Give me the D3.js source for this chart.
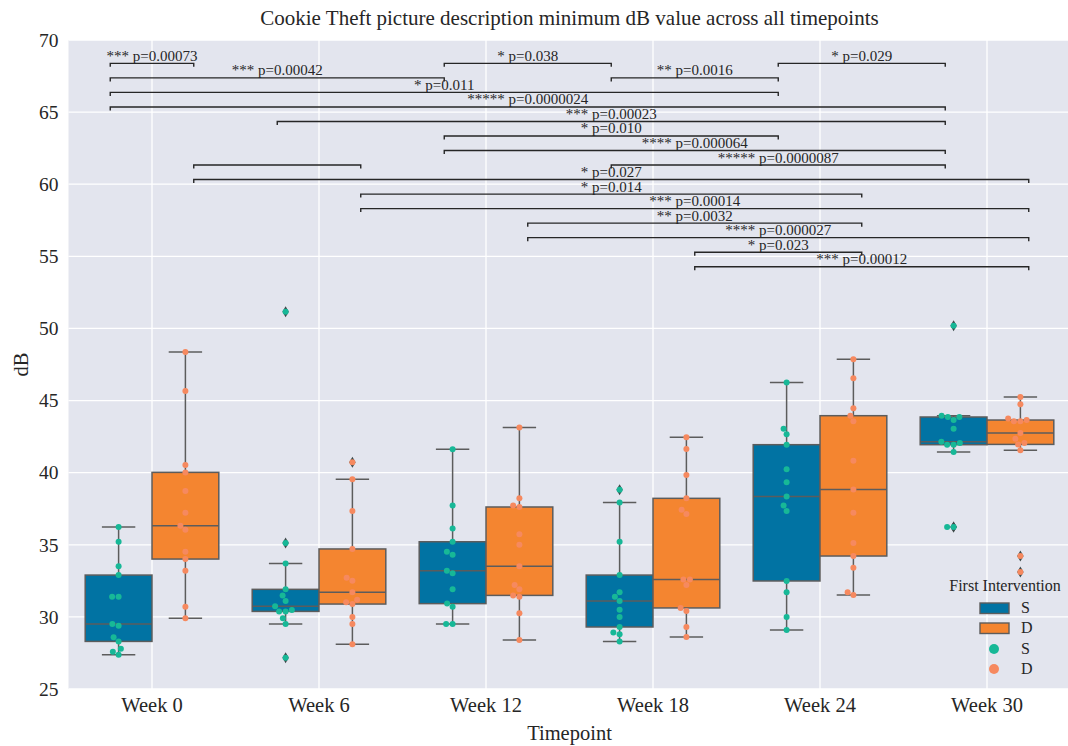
<!DOCTYPE html>
<html>
<head>
<meta charset="utf-8">
<script src="https://cdn.jsdelivr.net/npm/d3@7"></script>
<style>
  body { margin: 0; background: #fff; }
  text { font-family: "Liberation Serif", serif; fill: #262626; }
</style>
</head>
<body>
<script>
'use strict';

// chart data
const weeks = ["Week 0", "Week 6", "Week 12", "Week 18", "Week 24", "Week 30"];
const groups = ["S", "D"];

// S = first intervention S, one list per week
const sValues = [
  [36.23, 35.21, 33.51, 32.90, 31.40, 31.40, 29.50, 29.39, 28.58, 28.30, 27.79, 27.59, 27.38],
  [51.16, 35.12, 33.71, 31.91, 31.49, 31.10, 30.73, 30.48, 30.38, 30.38, 29.90, 29.50, 27.17],
  [41.62, 37.73, 36.12, 35.21, 34.52, 34.31, 33.20, 33.02, 31.91, 30.92, 30.70, 29.50, 29.50],
  [38.82, 37.94, 35.21, 32.90, 31.70, 31.40, 31.10, 30.50, 30.00, 29.30, 28.91, 28.79, 28.30],
  [46.26, 43.05, 42.66, 41.94, 40.23, 39.33, 38.34, 37.73, 37.34, 32.49, 31.70, 30.00, 29.09],
  [50.19, 43.95, 43.86, 43.86, 43.65, 43.05, 42.15, 42.06, 41.94, 41.94, 41.43, 36.23, 36.23]
];

// D = first intervention D
const dValues = [
  [48.37, 45.66, 40.53, 40.02, 38.73, 37.22, 36.32, 36.05, 34.52, 34.01, 33.20, 30.70, 29.90],
  [40.72, 39.54, 37.34, 34.71, 32.72, 32.51, 31.70, 31.19, 31.01, 30.89, 30.00, 29.50, 28.10],
  [43.14, 38.22, 37.73, 37.62, 35.73, 35.01, 33.51, 32.21, 31.91, 31.49, 31.40, 30.25, 28.40],
  [42.45, 41.64, 39.84, 38.22, 37.43, 37.13, 32.60, 32.60, 32.21, 30.62, 30.41, 29.30, 28.60],
  [47.86, 46.54, 44.46, 43.95, 43.56, 40.83, 38.84, 37.22, 35.12, 34.22, 33.41, 31.70, 31.52],
  [45.25, 44.74, 43.75, 43.65, 43.56, 43.56, 42.75, 42.36, 42.06, 41.96, 41.55, 34.22, 33.11]
];

const yTicks = [25, 30, 35, 40, 45, 50, 55, 60, 65, 70];

// significance brackets: slot = week index * 2 + group index
const annotFrom  = [0, 4, 8, 0, 6, 0, 0, 2, 4, 4, 1, 6, 1, 3, 3, 5, 5, 7, 7];
const annotTo    = [1, 6, 10, 4, 8, 8, 10, 10, 8, 10, 3, 10, 11, 9, 11, 9, 11, 9, 11];
const annotLevel = [0, 0, 0, 1, 1, 2, 3, 4, 5, 6, 7, 7, 8, 9, 10, 11, 12, 13, 14];
const annotLabel = [
  "*** p=0.00073", "* p=0.038", "* p=0.029",
  "*** p=0.00042", "** p=0.0016",
  "* p=0.011",
  "***** p=0.0000024",
  "*** p=0.00023",
  "* p=0.010",
  "**** p=0.000064",
  "", "***** p=0.0000087",
  "* p=0.027",
  "* p=0.014",
  "*** p=0.00014",
  "** p=0.0032",
  "**** p=0.000027",
  "* p=0.023",
  "*** p=0.00012"
];

const boxColor = { S: "#0173a3", D: "#f48530" };
const dotColor = { S: "#17b897", D: "#f6895f" };
const edgeColor = "#5c5c5c";

const width = 1068, height = 746;
const plot = { left: 68.5, right: 1070.5, top: 40, bottom: 689 };

const svg = d3.select('body').append('svg')
  .attr('width', width)
  .attr('height', height);

const x = d3.scaleBand().domain(weeks).range([plot.left, plot.right]);
const y = d3.scaleLinear().domain([25, 70]).range([plot.bottom, plot.top]);
const bw = x.bandwidth();
const hueOffset = { S: -0.2 * bw, D: 0.2 * bw };
const boxW = 0.4 * bw;
const center = (w) => x(w) + bw / 2;

// background + grid
svg.append('rect')
  .attr('x', plot.left).attr('y', plot.top)
  .attr('width', plot.right - plot.left).attr('height', plot.bottom - plot.top)
  .attr('fill', '#e3e5ee');

svg.append('g').selectAll('line').data(yTicks).enter().append('line')
  .attr('x1', plot.left).attr('x2', plot.right)
  .attr('y1', d => y(d)).attr('y2', d => y(d))
  .attr('stroke', '#fff').attr('stroke-width', 1.3);

svg.append('g').selectAll('line').data(weeks).enter().append('line')
  .attr('x1', d => center(d)).attr('x2', d => center(d))
  .attr('y1', plot.top).attr('y2', plot.bottom)
  .attr('stroke', '#fff').attr('stroke-width', 1.3);

// axes
const yAxis = svg.append('g')
  .attr('transform', `translate(${plot.left}, 0)`)
  .call(d3.axisLeft(y).tickValues(yTicks).tickSize(0).tickPadding(10));
yAxis.select('.domain').remove();
yAxis.selectAll('text').style('font-size', '19.5px').attr('fill', '#262626');

const xAxis = svg.append('g')
  .attr('transform', `translate(0, ${plot.bottom})`)
  .call(d3.axisBottom(x).tickSize(0).tickPadding(8));
xAxis.select('.domain').remove();
xAxis.selectAll('text').style('font-size', '20.5px').attr('fill', '#262626');

// box stats like seaborn (1.5 IQR whiskers)
function boxStats(vals) {
  const s = vals.slice().sort(d3.ascending);
  const q1 = d3.quantile(s, 0.25), med = d3.quantile(s, 0.5), q3 = d3.quantile(s, 0.75);
  const iqr = q3 - q1;
  const inside = s.filter(v => v >= q1 - 1.5 * iqr && v <= q3 + 1.5 * iqr);
  return {
    q1: q1, med: med, q3: q3,
    lo: d3.min(inside), hi: d3.max(inside),
    fliers: s.filter(v => v < q1 - 1.5 * iqr || v > q3 + 1.5 * iqr)
  };
}

// simple beeswarm in pixel space
function swarm(vals, r) {
  const placed = [];
  const dist = 2 * r + 0.3;
  vals.slice().sort(d3.ascending).forEach(v => {
    const py = y(v);
    let best = null;
    for (let k = 0; k < 400 && best === null; k++) {
      const cands = k === 0 ? [0] : [-k * 0.25, k * 0.25];
      for (const off of cands) {
        if (placed.every(p => (p.dx - off) ** 2 + (p.y - py) ** 2 >= dist * dist)) { best = off; break; }
      }
    }
    placed.push({ dx: best, y: py });
  });
  return placed;
}

const boxLayer = svg.append('g');
const dotLayer = svg.append('g');

weeks.forEach((w, wi) => {
  groups.forEach(g => {
    const vals = (g === "S" ? sValues : dValues)[wi];
    const st = boxStats(vals);
    const cx = center(w) + hueOffset[g];
    const gBox = boxLayer.append('g');

    // whiskers
    gBox.append('line')
      .attr('x1', cx).attr('x2', cx).attr('y1', y(st.hi)).attr('y2', y(st.q3))
      .attr('stroke', edgeColor).attr('stroke-width', 1.5);
    gBox.append('line')
      .attr('x1', cx).attr('x2', cx).attr('y1', y(st.q1)).attr('y2', y(st.lo))
      .attr('stroke', edgeColor).attr('stroke-width', 1.5);
    [st.hi, st.lo].forEach(v => {
      gBox.append('line')
        .attr('x1', cx - boxW / 4).attr('x2', cx + boxW / 4)
        .attr('y1', y(v)).attr('y2', y(v))
        .attr('stroke', edgeColor).attr('stroke-width', 1.5);
    });
    // box
    gBox.append('rect')
      .attr('x', cx - boxW / 2).attr('y', y(st.q3))
      .attr('width', boxW).attr('height', y(st.q1) - y(st.q3))
      .attr('fill', boxColor[g])
      .attr('stroke', edgeColor).attr('stroke-width', 1.5);
    gBox.append('line')
      .attr('x1', cx - boxW / 2).attr('x2', cx + boxW / 2)
      .attr('y1', y(st.med)).attr('y2', y(st.med))
      .attr('stroke', edgeColor).attr('stroke-width', 1.5);
    // fliers (thin diamonds)
    gBox.selectAll('.flier').data(st.fliers).enter().append('path')
      .attr('d', d => `M${cx},${y(d) - 5.5}L${cx + 3.2},${y(d)}L${cx},${y(d) + 5.5}L${cx - 3.2},${y(d)}Z`)
      .attr('fill', '#3d4a4a');

    // swarm points
    dotLayer.selectAll(null).data(swarm(vals, 3)).enter().append('circle')
      .attr('cx', d => cx + d.dx)
      .attr('cy', d => d.y)
      .attr('r', 3)
      .attr('fill', dotColor[g]);
  });
});

// significance brackets
const slotX = (s) => center(weeks[Math.floor(s / 2)]) + (s % 2 === 0 ? -0.25 : 0.25) * bw;
const levelY = d3.scaleLinear().domain([0, 14]).range([y(68.38), y(54.28)]);
const annLayer = svg.append('g');
annotLabel.forEach((lab, i) => {
  const x1 = slotX(annotFrom[i]), x2 = slotX(annotTo[i]), yy = levelY(annotLevel[i]);
  annLayer.append('path')
    .attr('d', `M${x1},${yy + 3.5}V${yy}H${x2}V${yy + 3.5}`)
    .attr('fill', 'none').attr('stroke', '#262626').attr('stroke-width', 1.4);
  if (lab) {
    annLayer.append('text')
      .attr('x', (x1 + x2) / 2).attr('y', yy - 2.5)
      .attr('text-anchor', 'middle')
      .style('font-size', '15px')
      .text(lab);
  }
});

// legend
const lg = svg.append('g').attr('transform', 'translate(1005, 0)');
lg.append('text').attr('x', 0).attr('y', 591).attr('text-anchor', 'middle')
  .style('font-size', '16px').text('First Intervention');
groups.forEach((g, i) => {
  const yy = 608 + i * 20;
  lg.append('rect').attr('x', -25).attr('y', yy - 5).attr('width', 29).attr('height', 10.5)
    .attr('fill', boxColor[g]).attr('stroke', edgeColor).attr('stroke-width', 1.4);
  lg.append('text').attr('x', 16).attr('y', yy + 5).style('font-size', '16px').text(g);
  const yc = 649 + i * 20;
  lg.append('circle').attr('cx', -11).attr('cy', yc).attr('r', 5).attr('fill', dotColor[g]);
  lg.append('text').attr('x', 16).attr('y', yc + 5).style('font-size', '16px').text(g);
});

// labels
svg.append('text')
  .attr('x', (plot.left + plot.right) / 2).attr('y', 25)
  .attr('text-anchor', 'middle')
  .style('font-size', '21px')
  .text('Cookie Theft picture description minimum dB value across all timepoints');

svg.append('text')
  .attr('x', (plot.left + plot.right) / 2).attr('y', 740)
  .attr('text-anchor', 'middle')
  .style('font-size', '20.5px')
  .text('Timepoint');

svg.append('text')
  .attr('transform', `translate(28, ${(plot.top + plot.bottom) / 2}) rotate(-90)`)
  .attr('text-anchor', 'middle')
  .style('font-size', '20.5px')
  .text('dB');
</script>
</body>
</html>
